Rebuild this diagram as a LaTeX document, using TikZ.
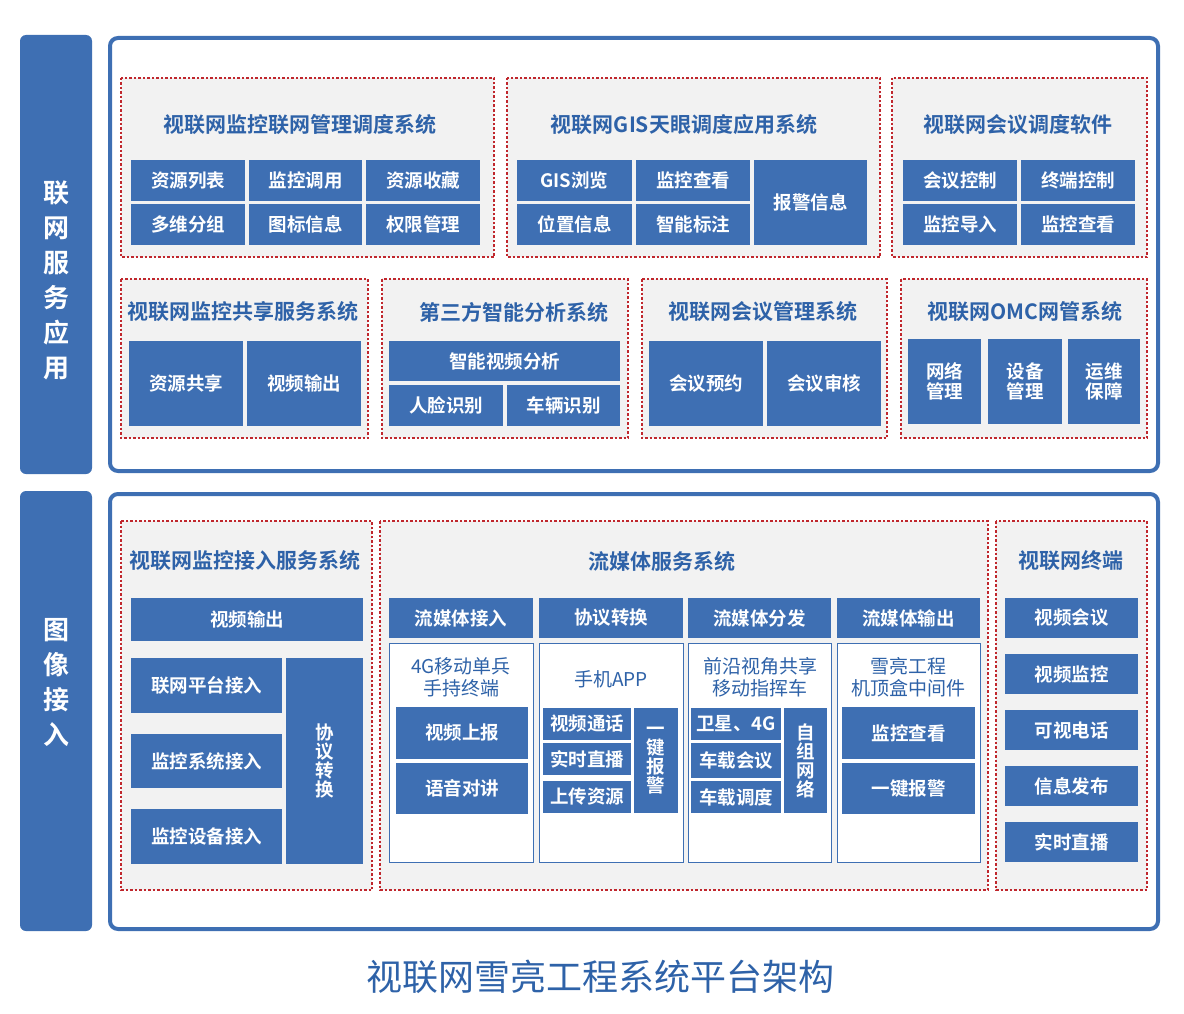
\documentclass[tikz,border=0pt]{standalone}
\usepackage{fontspec}
\setmainfont{Noto Sans CJK SC}
\newfontfamily\cjkb{Noto Sans CJK SC Bold}
\definecolor{cellc}{HTML}{3E6FB3}
\definecolor{titc}{HTML}{2E62A8}
\definecolor{grp}{HTML}{F2F2F2}
\definecolor{redd}{HTML}{C0272D}
\tikzset{
 celltxt/.style={text=white,font=\cjkb\fontsize{18.5}{20}\selectfont,align=center,inner sep=0pt},
 vtxt/.style={text=white,font=\cjkb\fontsize{18.5}{19}\selectfont,align=center,inner sep=0pt},
 grpbox/.style={fill=grp,draw=redd,line width=2.5pt,dash pattern=on 2.5pt off 2pt},
 ttl/.style={text=titc,font=\cjkb\fontsize{21}{23}\selectfont},
 sub/.style={fill=white,draw=cellc,line width=1pt},
 subt/.style={text=titc,font=\fontsize{19}{22}\selectfont,align=center},
 frame/.style={draw=cellc,line width=4pt,rounded corners=8pt,fill=white},
 side/.style={fill=cellc,rounded corners=6pt}
}
\newcommand\bx[6]{\fill[cellc] (#2,#3) rectangle (#4,#5) node[midway,celltxt] (#1) {#6};}
\newcommand\vb[6]{\fill[cellc] (#2,#3) rectangle (#4,#5) node[midway,vtxt] (#1) {#6};}
\begin{document}
\begin{tikzpicture}[x=1pt,y=-1pt]
\useasboundingbox (0,0) rectangle (1184,1014);
% side labels
\fill[side] (20,35) rectangle (92,474);
\node[text=white,font=\cjkb\fontsize{26}{35}\selectfont,align=center] (s1) at (56,280) {联\\网\\服\\务\\应\\用};
\fill[side] (20,491) rectangle (92,931);
\node[text=white,font=\cjkb\fontsize{26}{35}\selectfont,align=center] (s2) at (56,683) {图\\像\\接\\入};
\draw[frame] (110,38) rectangle (1158,471);
\draw[frame] (110,494) rectangle (1158,929);
% top groups
\draw[grpbox] (121,78) rectangle (494,257);
\node[ttl] (t1) at (300,125) {视联网监控联网管理调度系统};
\bx{a1}{131}{160}{245}{201}{资源列表}
\bx{a2}{249}{160}{362}{201}{监控调用}
\bx{a3}{366}{160}{480}{201}{资源收藏}
\bx{a4}{131}{204}{245}{245}{多维分组}
\bx{a5}{249}{204}{362}{245}{图标信息}
\bx{a6}{366}{204}{480}{245}{权限管理}
\draw[grpbox] (507,78) rectangle (880,257);
\node[ttl] (t2) at (684,125) {视联网GIS天眼调度应用系统};
\bx{b1}{517}{160}{632}{201}{GIS浏览}
\bx{b2}{636}{160}{750}{201}{监控查看}
\bx{b3}{517}{204}{632}{245}{位置信息}
\bx{b4}{636}{204}{750}{245}{智能标注}
\bx{b5}{754}{160}{867}{245}{报警信息}
\draw[grpbox] (892,78) rectangle (1147,257);
\node[ttl] (t3) at (1018,125) {视联网会议调度软件};
\bx{c1}{903}{160}{1017}{201}{会议控制}
\bx{c2}{1021}{160}{1135}{201}{终端控制}
\bx{c3}{903}{204}{1017}{245}{监控导入}
\bx{c4}{1021}{204}{1135}{245}{监控查看}
% second row
\draw[grpbox] (121,279) rectangle (368,438);
\node[ttl] (t4) at (243,312) {视联网监控共享服务系统};
\bx{d1}{129}{341}{243}{426}{资源共享}
\bx{d2}{247}{341}{361}{426}{视频输出}
\draw[grpbox] (382,279) rectangle (628,438);
\node[ttl] (t5) at (514,312) {第三方智能分析系统};
\bx{e1}{389}{341}{620}{381}{智能视频分析}
\bx{e2}{389}{385}{503}{426}{人脸识别}
\bx{e3}{507}{385}{620}{426}{车辆识别}
\draw[grpbox] (642,279) rectangle (887,438);
\node[ttl] (t6) at (763,312) {视联网会议管理系统};
\bx{f1}{649}{341}{763}{426}{会议预约}
\bx{f2}{767}{341}{881}{426}{会议审核}
\draw[grpbox] (901,279) rectangle (1147,438);
\node[ttl] (t7) at (1025,312) {视联网OMC网管系统};
\bx{g1}{908}{339}{981}{424}{网络\\管理}
\bx{g2}{988}{339}{1062}{424}{设备\\管理}
\bx{g3}{1068}{339}{1140}{424}{运维\\保障}
% bottom
\draw[grpbox] (121,521) rectangle (372,890);
\node[ttl] (t8) at (245,561) {视联网监控接入服务系统};
\bx{h1}{131}{598}{363}{641}{视频输出}
\bx{h2}{131}{658}{282}{713}{联网平台接入}
\bx{h3}{131}{734}{282}{788}{监控系统接入}
\bx{h4}{131}{809}{282}{864}{监控设备接入}
\vb{h5}{286}{658}{363}{864}{协\\议\\转\\换}
\draw[grpbox] (380,521) rectangle (988,890);
\node[ttl] (t9) at (662,561) {流媒体服务系统};
\bx{i1}{389}{598}{533}{638}{流媒体接入}
\bx{i2}{539}{598}{683}{638}{协议转换}
\bx{i3}{688}{598}{831}{638}{流媒体分发}
\bx{i4}{837}{598}{980}{638}{流媒体输出}
\draw[sub] (389,643) rectangle (533,862);
\draw[sub] (539,643) rectangle (683,862);
\draw[sub] (688,643) rectangle (831,862);
\draw[sub] (837,643) rectangle (980,862);
\node[subt] (u1) at (461,677) {4G移动单兵\\手持终端};
\bx{j1}{396}{707}{528}{759}{视频上报}
\bx{j2}{396}{763}{528}{814}{语音对讲}
\node[subt] (u2) at (611,679) {手机APP};
\bx{k1}{543}{708}{631}{740}{视频通话}
\bx{k2}{543}{743}{631}{775}{实时直播}
\bx{k3}{543}{781}{631}{813}{上传资源}
\vb{k4}{634}{708}{678}{813}{一\\键\\报\\警}
\node[subt] (u3) at (760,677) {前沿视角共享\\移动指挥车};
\bx{l1}{691}{708}{781}{740}{卫星、4G}
\bx{l2}{691}{743}{781}{778}{车载会议}
\bx{l3}{691}{781}{781}{813}{车载调度}
\vb{l4}{784}{708}{827}{813}{自\\组\\网\\络}
\node[subt] (u4) at (908,677) {雪亮工程\\机顶盒中间件};
\bx{m1}{842}{707}{975}{759}{监控查看}
\bx{m2}{842}{763}{975}{814}{一键报警}
\draw[grpbox] (996,521) rectangle (1147,890);
\node[ttl] (t10) at (1071,561) {视联网终端};
\bx{n1}{1005}{598}{1138}{638}{视频会议}
\bx{n2}{1005}{654}{1138}{694}{视频监控}
\bx{n3}{1005}{710}{1138}{750}{可视电话}
\bx{n4}{1005}{766}{1138}{806}{信息发布}
\bx{n5}{1005}{822}{1138}{862}{实时直播}
\node[text=titc,font=\fontsize{36}{38}\selectfont] (cap) at (600,977) {视联网雪亮工程系统平台架构};
\end{tikzpicture}
\end{document}
